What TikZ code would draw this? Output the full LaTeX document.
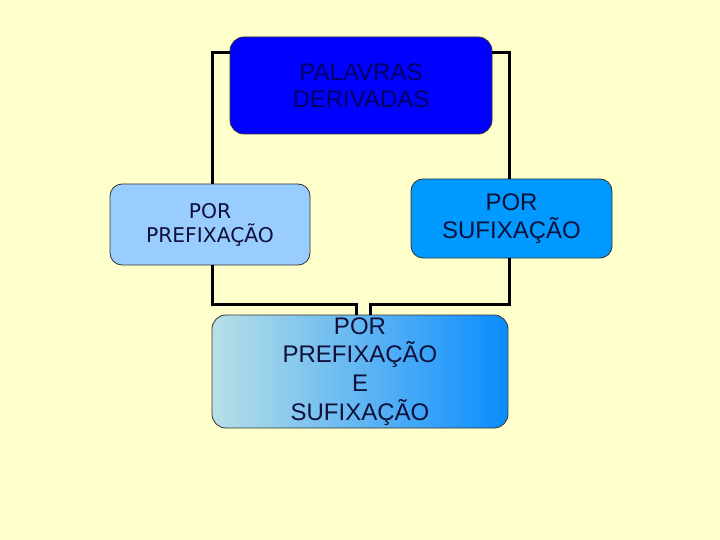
\documentclass[tikz,border=0pt]{standalone}
\usepackage{fontspec}
\setmainfont{Liberation Sans}
\newfontfamily\dejavu{DejaVu Sans}
\definecolor{bg}{HTML}{FFFFCC}
\definecolor{topblue}{HTML}{0000FF}
\definecolor{leftblue}{HTML}{99CCFF}
\definecolor{rightblue}{HTML}{0099FF}
\definecolor{gradl}{HTML}{B8E0E6}
\definecolor{gradr}{HTML}{0A8CFF}
\definecolor{txt}{HTML}{10103A}
\definecolor{toptxt}{HTML}{000060}
\tikzset{
  box/.style={draw=black!80, line width=0.8pt, rounded corners=14pt, inner sep=0pt, align=center, text=txt},
  conn/.style={draw=black, line width=3pt}
}
\begin{document}
\begin{tikzpicture}[x=1pt,y=-1pt]
\fill[bg] (0,0) rectangle (720,540);
\useasboundingbox (0,0) rectangle (720,540);
\coordinate (ytop) at (0,53);
\node[box, fill=topblue, minimum width=262pt, minimum height=97pt, text=toptxt, font=\fontsize{24}{27.5}\selectfont] (top) at (361,85.5) {PALAVRAS\\DERIVADAS};
\node[box, fill=leftblue, minimum width=200pt, minimum height=81pt, rounded corners=12pt, font=\dejavu\fontsize{20.3}{24}\selectfont] (left) at (210,224.5) {POR\\PREFIXAÇÃO};
\node[box, fill=rightblue, minimum width=201pt, minimum height=79pt, rounded corners=12pt, font=\fontsize{24}{27.5}\selectfont] (right) at (511.5,218.5) {POR\\SUFIXAÇÃO};
\node[box, left color=gradl, right color=gradr, minimum width=296pt, minimum height=113pt, font=\fontsize{24}{28.7}\selectfont] (bottom) at (360,371.5) {POR\\PREFIXAÇÃO\\E\\SUFIXAÇÃO};
\draw[conn] (top.west |- ytop) -| ([xshift=2pt]left.north);
\draw[conn] ([xshift=2pt]left.south) |- ([xshift=-4pt,yshift=10pt]bottom.north) -- ([xshift=-4pt]bottom.north);
\draw[conn] (top.east |- ytop) -| ([xshift=-2pt]right.north);
\draw[conn] ([xshift=-2pt]right.south) |- ([xshift=10pt,yshift=10pt]bottom.north) -- ([xshift=10pt]bottom.north);
\end{tikzpicture}
\end{document}
